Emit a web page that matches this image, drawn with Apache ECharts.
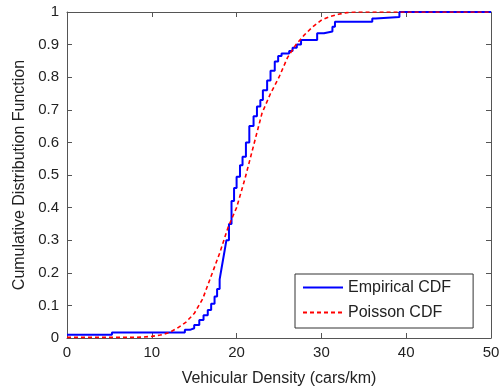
<!DOCTYPE html>
<html>
<head>
<meta charset="utf-8">
<script src="https://cdn.jsdelivr.net/npm/echarts@6/dist/echarts.min.js"></script>
<style>html,body{margin:0;padding:0;background:#fff;}#c{width:503px;height:389px;}</style>
</head>
<body>
<div id="c"></div>
<script>
// Empirical CDF (step points: x where a new level starts, level value)
const empX = [0, 5.3, 13.9, 14.5, 15.0, 15.6, 16.1, 16.6, 17.0, 17.4, 17.7, 18.0, 18.2, 18.4, 18.6, 18.8, 19.1, 19.4, 19.7, 20.0, 20.4, 20.7, 21.1, 21.5, 22.0, 22.4, 22.8, 23.1, 23.6, 24.0, 24.5, 24.9, 25.3, 26.2, 26.6, 27.1, 27.6, 29.5, 30.3, 31.3, 31.6, 36.0, 36.4, 39.2, 50];
const empY = [0.01, 0.017, 0.025, 0.03, 0.04, 0.055, 0.07, 0.086, 0.105, 0.127, 0.15, 0.18, 0.21, 0.24, 0.27, 0.30, 0.35, 0.42, 0.46, 0.495, 0.53, 0.556, 0.60, 0.65, 0.68, 0.71, 0.73, 0.76, 0.79, 0.82, 0.848, 0.865, 0.873, 0.88, 0.89, 0.90, 0.914, 0.935, 0.94, 0.955, 0.97, 0.98, 0.985, 1.0, 1.0];
// Poisson CDF (values read at integer densities)
const poisX = [0,1,2,3,4,5,6,7,8,9,10,11,12,13,14,15,16,17,18,19,20,21,22,23,24,25,26,27,28,29,30,31,32,33,34,35,36,37,38,39,40,41,42,43,44,45,46,47,48,49,50];
const poisY = [0.002,0.002,0.002,0.002,0.002,0.002,0.002,0.002,0.002,0.003,0.005,0.009,0.016,0.03,0.048,0.075,0.12,0.19,0.26,0.34,0.40,0.49,0.59,0.69,0.75,0.80,0.86,0.90,0.93,0.955,0.975,0.986,0.993,0.998,1,1,1,1,1,1,1,1,1,1,1,1,1,1,1,1,1];
const xTicks = {min: 0, max: 50, interval: 10};
const yTicks = {min: 0, max: 1, interval: 0.1};
const seriesNames = ['Empirical CDF', 'Poisson CDF'];
const xName = 'Vehicular Density (cars/km)';
const yName = 'Cumulative Distribution Function';

const font = 'Liberation Sans, Arial, sans-serif';
const axisCol = '#555';
const txtCol = '#222';
const chart = echarts.init(document.getElementById('c'), null, {renderer: 'canvas'});
const frameAxis = (extra) => Object.assign({
  axisLine: {show: true, onZero: false, lineStyle: {color: axisCol, width: 1}},
  axisTick: {show: true, inside: true, length: 5, lineStyle: {color: axisCol}},
  splitLine: {show: false}
}, extra);

chart.setOption({
  animation: false,
  backgroundColor: '#fff',
  grid: {left: 67, right: 12, top: 12, bottom: 51, containLabel: false, outerBoundsMode: 'none'},
  legend: {
    orient: 'vertical', left: 295, top: 274,
    itemWidth: 40, itemHeight: 14, itemGap: 8,
    padding: [5, 22, 7, 7],
    borderColor: '#333', borderWidth: 1, backgroundColor: '#fff',
    itemStyle: {opacity: 0},
    textStyle: {fontFamily: font, fontSize: 16, lineHeight: 17, color: txtCol},
    data: seriesNames
  },
  xAxis: [
    frameAxis({type: 'value', position: 'bottom', min: xTicks.min, max: xTicks.max, interval: xTicks.interval,
      name: xName, nameLocation: 'middle', nameGap: 33,
      nameTextStyle: {fontFamily: font, fontSize: 16, color: txtCol},
      axisLabel: {fontFamily: font, fontSize: 15, color: txtCol, margin: 7}}),
    frameAxis({type: 'value', position: 'top', min: xTicks.min, max: xTicks.max, interval: xTicks.interval,
      axisLabel: {show: false}})
  ],
  yAxis: [
    frameAxis({type: 'value', position: 'left', min: yTicks.min, max: yTicks.max, interval: yTicks.interval,
      name: yName, nameLocation: 'middle', nameGap: 37,
      nameTextStyle: {fontFamily: font, fontSize: 16, color: txtCol},
      axisLabel: {fontFamily: font, fontSize: 15, color: txtCol, margin: 8}}),
    frameAxis({type: 'value', position: 'right', min: yTicks.min, max: yTicks.max, interval: yTicks.interval,
      axisLabel: {show: false}})
  ],
  series: [
    {name: seriesNames[0], type: 'line', step: 'end', symbol: 'none', z: 2,
      data: empX.map((x, i) => [x, empY[i]]),
      lineStyle: {color: '#0000ff', width: 2}, itemStyle: {color: '#0000ff'}},
    {name: seriesNames[1], type: 'line', symbol: 'none', z: 3,
      data: poisX.map((x, i) => [x, poisY[i]]),
      lineStyle: {color: '#ff0000', width: 1.6, type: [4, 3]}, itemStyle: {color: '#ff0000'}}
  ]
});
</script>
</body>
</html>
